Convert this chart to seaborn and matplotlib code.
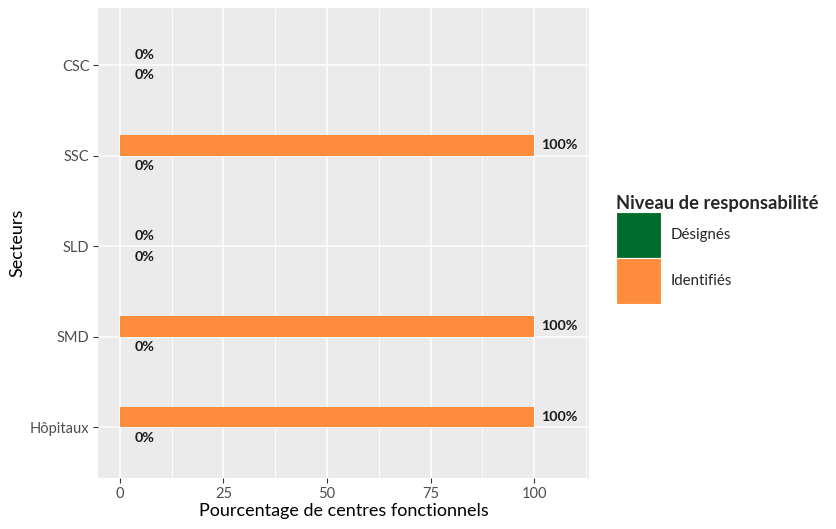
import numpy as np
import pandas as pd
import matplotlib.pyplot as plt
from matplotlib.patches import Patch
import seaborn as sns

secteurs = ['CSC', 'SSC', 'SLD', 'SMD', 'Hôpitaux']
identifies = [0, 100, 0, 100, 100]
designes = [0, 0, 0, 0, 0]
niveaux = ['Désignés', 'Identifiés']
couleurs = {'Désignés': '#006d2c', 'Identifiés': '#fd8d3c'}

df = pd.DataFrame({
    'Secteurs': secteurs * 2,
    'Niveau': ['Identifiés'] * len(secteurs) + ['Désignés'] * len(secteurs),
    'Pourcentage': identifies + designes,
})

sns.set_style('darkgrid', {'axes.facecolor': '#EBEBEB', 'grid.color': 'white'})
plt.rcParams['font.family'] = ['Lato', 'DejaVu Sans']

fig = plt.figure(figsize=(8.36, 5.29), dpi=100)
ax = fig.add_axes([0.117, 0.096, 0.588, 0.889])

sns.barplot(data=df, x='Pourcentage', y='Secteurs', hue='Niveau',
            order=secteurs, hue_order=['Identifiés', 'Désignés'],
            palette=couleurs, width=0.46, orient='h', ax=ax,
            saturation=1, legend=False, linewidth=0)

# labels
for cont in ax.containers:
    for bar in cont:
        w = bar.get_width()
        yc = bar.get_y() + bar.get_height() / 2
        ax.text(w + 6, yc, f'{w:.0f}%', ha='center', va='center',
                fontsize=10.3, fontweight='bold', color='#1a1a1a')

ax.set_xlim(-5.3, 113.3)
ax.set_ylim(4.56, -0.63)
ax.set_xticks([0, 25, 50, 75, 100])
ax.set_xticks([12.5, 37.5, 62.5, 87.5, 112.5], minor=True)
ax.grid(which='major', color='white', linewidth=1.1)
ax.grid(which='minor', axis='x', color='white', linewidth=0.55)
ax.set_axisbelow(True)
for s in ax.spines.values():
    s.set_visible(False)
ax.tick_params(axis='both', which='major', left=True, bottom=True, length=3.5, width=0.8,
               color='#333333', labelcolor='#4D4D4D', labelsize=10.5, pad=2.5)
ax.tick_params(axis='both', which='minor', length=0)
ax.set_xlabel('Pourcentage de centres fonctionnels', fontsize=13, color='black', labelpad=2)
ax.set_ylabel('Secteurs', fontsize=13, color='black', labelpad=3)

handles = [Patch(facecolor=couleurs[n], edgecolor='white', linewidth=0.8) for n in niveaux]
leg = fig.legend(handles, niveaux, title='Niveau de responsabilité',
                 loc='upper left', bbox_to_anchor=(0.730, 0.642), frameon=False,
                 fontsize=10.8, title_fontsize=13.2, handlelength=3.0, handleheight=4.3,
                 labelspacing=0.0, handletextpad=0.6, borderaxespad=0)
leg.get_title().set_fontweight('bold')
leg._legend_box.align = 'left'

fig.savefig('out.png', dpi=100)
